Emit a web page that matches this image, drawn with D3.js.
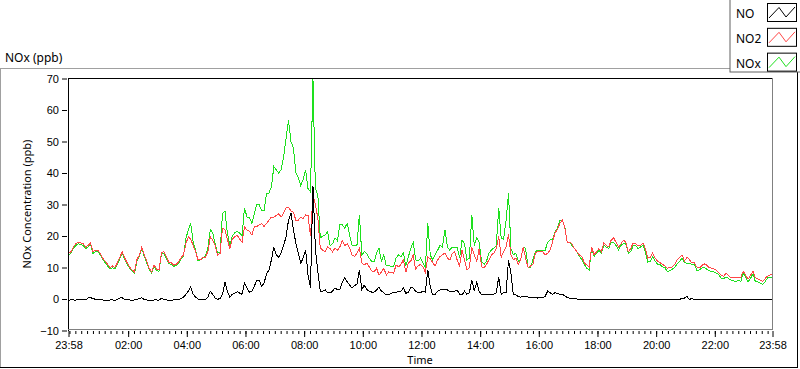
<!DOCTYPE html>
<html>
<head>
<meta charset="utf-8">
<script src="https://cdn.jsdelivr.net/npm/d3@7"></script>
<style>
  body { margin: 0; background: #fff; }
  svg { display: block; font-family: "Noto Sans", "Open Sans", sans-serif; }
  .tick text { fill: #000; }
</style>
</head>
<body>
<div id="chart"></div>
<script>
// readings every 5 minutes, starting at 23:58
var stepMinutes = 5;

var no2Values = [
  14.5, 15, 16.5, 17.5, 18, 17.8, 17.5, 16.5, 17, 17.8, 15, 15.5, 15.5, 14.5, 13, 12, 11, 10, 10.5, 10,
  11.5, 13.3, 15, 13, 11.5, 10.2, 9.2, 8.6, 12.5, 14, 16.5, 14, 12, 9.8, 8.6, 10.8, 9.5, 9.2, 14.6, 15,
  13.5, 11.7, 11.5, 10.8, 11, 11.7, 13, 14, 17.5, 19.7, 19, 17, 15, 12.4, 12.4, 13.3, 13.3, 15, 19.7, 18.7,
  17, 14, 14.5, 22.5, 22, 19, 16, 19, 19.7, 20.3, 19, 18, 22.9, 21.9, 21.5, 20.3, 22.9, 23, 23.5, 24,
  23, 24, 25, 26, 26, 26.5, 27, 26, 27.3, 28.9, 29, 28, 27.6, 25, 25, 26, 25.5, 26.7, 26.5, 20,
  33, 30, 25.7, 16.2, 15.5, 15, 16.5, 16, 15, 16.2, 15.5, 16.5, 18.5, 17, 17.5, 16.2, 14, 13.5, 14.5, 16.2,
  11.5, 10.8, 11.4, 10.2, 9, 8.6, 9.8, 7.6, 8.5, 9.8, 7.6, 8.6, 8.4, 8.2, 10.8, 10.2, 11, 12.4, 8.5, 11.4,
  12, 14, 9.5, 10.5, 11, 10.2, 8.5, 13.3, 12.8, 11.5, 10.5, 12.4, 13.5, 14, 14.6, 13, 12.4, 14.5, 15, 12.4,
  10.5, 15.5, 12.4, 9.2, 10, 16.5, 14, 12, 16, 10.2, 9.8, 11, 12.4, 14, 14.6, 16, 20, 13.3, 15, 16.5,
  20.5, 14, 12.4, 13, 11, 12.5, 16.5, 13, 10, 10.5, 11, 14.6, 15, 15, 15, 14, 14.5, 15.5, 18, 21,
  22, 24, 25, 22.9, 18, 18, 17.5, 16, 15, 14, 13.5, 11.5, 10.8, 10.2, 16.5, 14, 15, 16, 15, 17.8,
  17, 16.5, 18.7, 19.4, 18, 16.5, 17.5, 18.7, 18, 15, 16, 17.8, 17.5, 17, 17, 17.8, 16, 13, 13.3, 14.6,
  13, 12, 11.5, 11, 10.5, 9.8, 10, 10.2, 11, 12.4, 13.3, 14, 12, 13.3, 12.5, 11.4, 11.5, 10.2, 9.8, 10.5,
  11.2, 10.8, 10, 9.8, 9.6, 9.2, 8.4, 7.5, 7.2, 8.2, 7.5, 6.7, 6.8, 7, 6.9, 6.7, 8.8, 7.6, 6.3, 7.5,
  8.8, 6.7, 6.4, 6, 5.6, 6.5, 7.3, 7.6, 8];

var noxValues = [
  14, 14.5, 16, 17, 17.5, 17.3, 17, 16, 16.5, 17.3, 14.5, 15, 15, 14, 12.5, 11.5, 10.5, 9.5, 10, 9.5,
  11, 12.8, 14.5, 12.5, 11, 9.8, 8.8, 8.2, 12, 13.5, 16, 13.5, 11.5, 9.4, 8.2, 10.4, 9, 8.8, 14.2, 14.6,
  13, 11.3, 11, 10.4, 10.6, 11.3, 12.8, 13.6, 19, 22, 24, 18, 15.5, 12, 12.5, 13, 13.5, 16, 22, 21,
  17.5, 14.5, 15, 27, 28, 21, 17, 20, 21, 21.5, 21, 20, 29, 26, 26, 24, 27, 30, 30, 28,
  28, 33.6, 33.6, 35.6, 42, 41, 40, 41, 45, 51, 56.8, 50, 48, 40, 38.7, 36, 38, 41, 35, 34,
  70, 35, 33, 19.4, 20, 20.3, 21.3, 17, 17.5, 19.4, 18.5, 23.5, 23.5, 22.5, 24, 20.3, 17, 17, 17, 26.7,
  14, 15, 14.5, 13, 12, 11.7, 14.5, 16.2, 12, 14, 10.5, 10.8, 10.2, 10.2, 13, 14, 13.5, 14.6, 10.5, 13.3,
  16, 18, 12.5, 12, 13, 11.5, 10, 24, 14, 12.4, 14, 15.5, 17, 16.5, 22, 16.5, 15.5, 16.5, 16.5, 16.5,
  13, 18.7, 17.5, 12.4, 13, 26.7, 17, 19.4, 18, 12, 11, 12, 14.6, 15.5, 16.2, 17, 29, 19.4, 19, 25,
  33.6, 16, 14, 14.6, 12, 12.5, 16.5, 16, 10, 10, 12.5, 15, 15.5, 15.5, 15.5, 15.5, 18, 18.7, 19, 21.3,
  22.5, 25, 25, 23, 18, 18, 17, 16, 15, 13.5, 12.5, 11, 9.8, 9.2, 16.5, 13.5, 14.5, 15.5, 14.5, 17,
  16.5, 16, 18, 18, 17, 15.5, 17, 17.5, 17.5, 14.5, 15, 17, 17, 16, 16.5, 17, 15, 11.7, 12, 13.5,
  12, 11, 11, 10.2, 10, 8.6, 9, 9.5, 10, 11.2, 12, 13, 11.5, 11.4, 11.4, 11, 11, 9.2, 9.2, 9.8,
  10, 9.5, 9, 8.6, 8.6, 8.2, 7.8, 6.5, 6.4, 7, 6.5, 6, 5.8, 5.4, 6, 5.5, 8.2, 7, 5.5, 6.5,
  8, 5.5, 5.5, 5, 4.6, 5.5, 6.7, 6.7, 7];

var noValues = [
  -0.5, -0.2, -0.3, -0.4, 0, -0.2, -0.2, -0.3, 0.3, 0.4, 0.2, -0.1, -0.2, -0.3, -0.3, -0.4, -0.4, -0.3, -0.3, -0.4,
  -0.2, 0.3, 0.4, -0.2, -0.3, -0.3, -0.4, -0.3, -0.2, 0.2, 0.4, -0.2, -0.3, -0.4, -0.4, -0.3, -0.3, -0.4, 0.3, -0.2,
  -0.3, -0.4, -0.4, -0.3, -0.3, -0.3, 0.2, 0.5, 1.5, 2.5, 3.8, 1.5, 0.6, 0, -0.2, -0.3, -0.3, 0.5, 2.5, 1.5,
  0.3, -0.1, 0.2, 1.5, 5.4, 2.5, 0.6, 1.5, 1.9, 2.3, 1.9, 1.5, 5, 3.5, 2.2, 2.5, 4, 6, 6, 4,
  5, 8, 9.2, 12.4, 16.5, 14, 13.3, 14.6, 17, 19.7, 25, 27.3, 22, 17.8, 14.6, 11.4, 13, 15.5, 7.6, 3.5,
  36, 16, 8.6, 2.5, 2.5, 2.9, 2, 1.9, 2.5, 3.5, 3, 3, 5.4, 6.7, 5.5, 4.4, 3.5, 4.4, 4.5, 9.2,
  3, 4.4, 3, 2.5, 2.2, 2.2, 2.8, 3.8, 2.5, 2, 1.3, 1.3, 1.8, 2, 2, 2.5, 2.5, 3.5, 1.8, 2.2,
  3.5, 3.5, 2.5, 2, 2, 2.5, 2.2, 9.2, 3.8, 1.3, 1.5, 2.5, 2.9, 2.9, 2.9, 2.9, 2.3, 2.5, 2.5, 2.8,
  1.5, 1.3, 2.5, 1.5, 2, 6, 2.5, 5.4, 2.5, 1.3, 1.3, 1.5, 1.5, 1.5, 1.5, 2, 7, 1.5, 2, 2,
  12.4, 8.2, 1.3, 1.3, 0.8, 0.6, 0.8, 0.8, 0.6, 0.6, 0.4, 0.4, 0.3, 0.5, 0.5, 0.8, 2.5, 2, 1.5, 2,
  1.8, 1.5, 1.5, 1, 0.5, 0.3, 0.2, 0.1, 0, -0.2, -0.1, -0.2, -0.2, -0.3, -0.2, -0.2, -0.3, -0.2, -0.2, -0.3,
  0, -0.2, -0.2, -0.3, -0.3, -0.2, -0.3, -0.3, -0.2, -0.3, -0.3, -0.3, -0.3, -0.2, -0.3, -0.3, -0.3, -0.3, -0.3, -0.2,
  -0.2, -0.3, -0.3, -0.3, -0.3, -0.3, -0.3, -0.3, -0.3, -0.3, -0.2, 0.3, 0.3, 0.8, -0.2, 0.2, -0.3, -0.2, -0.2, -0.2,
  -0.3, -0.2, -0.2, -0.3, -0.3, -0.3, -0.3, -0.3, -0.3, -0.3, -0.3, -0.3, -0.3, -0.3, -0.3, -0.3, -0.3, -0.3, -0.3, -0.3,
  -0.3, -0.3, -0.3, -0.3, -0.3, 0, -0.3, -0.3, -0.3];

var seriesNames = ["NO", "NO2", "NOx"];
var xTickLabels = ["23:58", "02:00", "04:00", "06:00", "08:00", "10:00", "12:00",
                   "14:00", "16:00", "18:00", "20:00", "22:00", "23:58"];
var yTickValues = [-10, 0, 10, 20, 30, 40, 50, 60, 70];

window.onload = function()
{
  var width = 800, height = 369;
  var plot = {left: 68, right: 772, top: 78, bottom: 330};

  var svg = d3.select("#chart")
              .append("svg")
              .attr("width", width)
              .attr("height", height);

  // outer panel with a sunken border
  svg.append("line").attr("x1", 0).attr("x2", 730).attr("y1", 68.5).attr("y2", 68.5).attr("stroke", "#a0a0a0");
  svg.append("line").attr("x1", 0.5).attr("x2", 0.5).attr("y1", 68).attr("y2", 368).attr("stroke", "#a0a0a0");
  svg.append("line").attr("x1", 797.5).attr("x2", 797.5).attr("y1", 72).attr("y2", 368).attr("stroke", "#000");
  svg.append("line").attr("x1", 0).attr("x2", 798).attr("y1", 367.5).attr("y2", 367.5).attr("stroke", "#000");

  svg.append("text")
     .attr("x", 5)
     .attr("y", 62)
     .style("font-size", "12px")
     .text("NOx (ppb)");

  // scales
  var start = new Date(2020, 0, 1, 23, 58);
  var end = d3.timeDay.offset(start, 1);
  var times = noValues.map(function(d, i) { return d3.timeMinute.offset(start, i * stepMinutes); });

  var x = d3.scaleTime()
            .domain([start, end])
            .range([plot.left + 0.5, plot.right + 0.5]);

  var y = d3.scaleLinear()
            .domain([-10, 70])
            .range([plot.bottom + 0.5, plot.top + 0.5]);

  // x tick positions come from the labels
  var parseHM = d3.timeParse("%Y-%m-%d %H:%M");
  var xTickTimes = xTickLabels.map(function(l, i) {
    if (i === 0) return start;
    if (i === xTickLabels.length - 1) return end;
    return parseHM("2020-01-02 " + l);
  });

  // plot area
  svg.append("rect")
     .attr("x", plot.left).attr("y", plot.top)
     .attr("width", plot.right - plot.left).attr("height", plot.bottom - plot.top)
     .attr("fill", "#fff");

  // lines, NOx underneath and NO on top
  var series = [
    {name: "NOx", values: noxValues, color: "#1ee01e"},
    {name: "NO2", values: no2Values, color: "#ff4646"},
    {name: "NO",  values: noValues,  color: "#000000"}
  ];

  var line = d3.line()
               .x(function(d, i) { return x(times[i]); })
               .y(function(d) { return y(d); });

  svg.append("g")
     .selectAll("path")
     .data(series)
     .enter()
     .append("path")
     .attr("d", function(s) { return line(s.values); })
     .attr("fill", "none")
     .attr("stroke", function(s) { return s.color; })
     .attr("stroke-width", 1)
     .style("shape-rendering", "crispEdges");

  // frame: dark top/left, grey right/bottom
  svg.append("line").attr("x1", plot.left + 0.5).attr("x2", plot.right).attr("y1", plot.top + 0.5).attr("y2", plot.top + 0.5).attr("stroke", "#000");
  svg.append("line").attr("x1", plot.left + 0.5).attr("x2", plot.left + 0.5).attr("y1", plot.top).attr("y2", plot.bottom + 1).attr("stroke", "#000");
  svg.append("line").attr("x1", plot.right + 0.5).attr("x2", plot.right + 0.5).attr("y1", plot.top).attr("y2", plot.bottom).attr("stroke", "#808080");
  svg.append("line").attr("x1", plot.left).attr("x2", plot.right + 1).attr("y1", plot.bottom - 0.5).attr("y2", plot.bottom - 0.5).attr("stroke", "#808080");

  // x axis: minor ticks every 12 minutes, labelled major ticks
  var minorTimes = d3.timeMinute.every(12).range(d3.timeMinute.offset(start, 2), end);
  svg.append("g")
     .attr("class", "x minor")
     .attr("transform", "translate(0," + (plot.bottom + 1) + ")")
     .call(d3.axisBottom(x).tickValues(minorTimes).tickSize(3).tickFormat(""))
     .call(function(g) { g.select(".domain").remove(); });

  svg.append("g")
     .attr("class", "x axis")
     .attr("transform", "translate(0," + (plot.bottom + 1) + ")")
     .call(d3.axisBottom(x).tickValues(xTickTimes).tickSize(6).tickPadding(4)
             .tickFormat(function(d, i) { return xTickLabels[i]; }))
     .call(function(g) {
       g.select(".domain").remove();
       g.selectAll("text").style("font-size", "11px");
     });

  // y axis
  svg.append("g")
     .attr("class", "y axis")
     .attr("transform", "translate(" + (plot.left - 1) + ",0)")
     .call(d3.axisLeft(y).tickValues(yTickValues).tickSize(5).tickPadding(3))
     .call(function(g) {
       g.select(".domain").remove();
       g.selectAll("text").style("font-size", "11px");
     });

  svg.append("text")
     .attr("transform", "rotate(-90)")
     .attr("x", -(plot.top + plot.bottom) / 2)
     .attr("y", 31)
     .attr("text-anchor", "middle")
     .style("font-size", "11px")
     .text("NOx Concentration (ppb)");

  svg.append("text")
     .attr("x", (plot.left + plot.right) / 2)
     .attr("y", 364)
     .attr("text-anchor", "middle")
     .style("font-size", "11px")
     .text("Time");

  // legend
  var legend = svg.append("g").attr("class", "legend");
  legend.append("rect").attr("x", 730).attr("y", -1).attr("width", 71).attr("height", 73)
        .attr("fill", "#fff").attr("stroke", "#606060");

  var legendColors = {"NO": "#000000", "NO2": "#ff4646", "NOx": "#1ee01e"};
  var swatch = d3.scaleBand().domain(seriesNames).range([3, 72]).paddingInner(0.22);

  var item = legend.selectAll(".item")
                   .data(seriesNames)
                   .enter()
                   .append("g")
                   .attr("transform", function(d) { return "translate(0," + swatch(d) + ")"; });

  item.append("text")
      .attr("x", 736)
      .attr("y", 15)
      .style("font-size", "12px")
      .text(function(d) { return d; });

  item.append("rect")
      .attr("x", 767.5).attr("y", 0.5)
      .attr("width", 29).attr("height", 18)
      .attr("fill", "#fff").attr("stroke", "#000");

  item.append("path")
      .attr("d", "M769,15L779,4.5L786,14L795,4")
      .attr("fill", "none")
      .attr("stroke", function(d) { return legendColors[d]; });
};
</script>
</body>
</html>
